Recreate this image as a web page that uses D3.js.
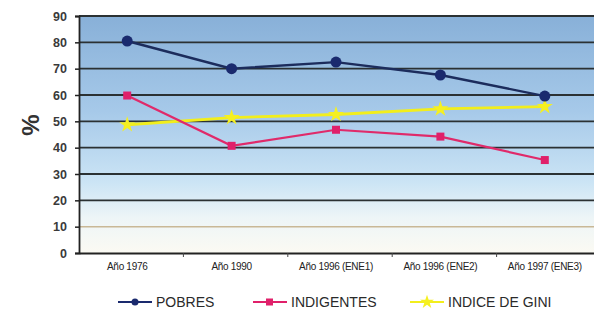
<!DOCTYPE html>
<html>
<head>
<meta charset="utf-8">
<script src="https://cdn.jsdelivr.net/npm/d3@7"></script>
<style>
  body { margin: 0; background: #fff; }
  text { font-family: "Liberation Sans", Arial, sans-serif; }
</style>
</head>
<body>
<svg id="chart" width="594" height="315"></svg>
<script>
// data
const categories = ["Año  1976", "Año 1990", "Año 1996 (ENE1)", "Año 1996 (ENE2)", "Año 1997 (ENE3)"];
const pobres = [80.5, 70, 72.5, 67.6, 59.6];
const indigentes = [59.8, 40.7, 46.8, 44.2, 35.3];
const gini = [48.7, 51.4, 52.6, 54.7, 55.6];
const yTicks = [0, 10, 20, 30, 40, 50, 60, 70, 80, 90];
const seriesNames = ["POBRES", "INDIGENTES", "INDICE DE GINI"];

const margin = { top: 16, right: -7, bottom: 62, left: 79 },
    width = 594 - margin.left - margin.right,
    height = 315 - margin.top - margin.bottom;

const svg = d3.select("#chart");

// background gradient
const defs = svg.append("defs");
const grad = defs.append("linearGradient")
    .attr("id", "bg")
    .attr("x1", 0).attr("y1", 0).attr("x2", 0).attr("y2", 1);
grad.append("stop").attr("offset", "0%").attr("stop-color", "#88b0d8");
grad.append("stop").attr("offset", "40%").attr("stop-color", "#a6c9e9");
grad.append("stop").attr("offset", "70%").attr("stop-color", "#cbe4f5");
grad.append("stop").attr("offset", "85%").attr("stop-color", "#edf5f7");
grad.append("stop").attr("offset", "100%").attr("stop-color", "#fbfaf3");

const g = svg.append("g")
    .attr("transform", "translate(" + margin.left + "," + margin.top + ")");

const x = d3.scaleBand().domain(categories).range([0, width]);
const y = d3.scaleLinear().domain([0, 90]).range([height, 0]);

g.append("rect")
    .attr("width", width)
    .attr("height", height)
    .attr("fill", "url(#bg)");

// gridlines
g.selectAll(".grid")
    .data(yTicks.slice(1))
    .enter().append("line")
    .attr("class", "grid")
    .attr("x1", 0).attr("x2", width)
    .attr("y1", d => y(d)).attr("y2", d => y(d))
    .style("stroke", d => d === 10 ? "#c9b896" : "#2b3133")
    .style("stroke-width", d => d === 10 ? 1.5 : 1.8);

// y axis
const yAxis = g.append("g")
    .call(d3.axisLeft(y).tickValues(yTicks).tickSize(4).tickPadding(8));
yAxis.select(".domain").style("stroke", "#222").style("stroke-width", 1.8);
yAxis.selectAll(".tick line").style("stroke", "#222").style("stroke-width", 1.5);
yAxis.selectAll("text")
    .style("font-size", "12.5px")
    .style("font-weight", "bold")
    .style("fill", "#3a3a3a");

// x axis
const xAxis = g.append("g")
    .attr("transform", "translate(0," + height + ")")
    .call(d3.axisBottom(x).tickSize(0).tickPadding(10));
xAxis.select(".domain").style("stroke", "#222").style("stroke-width", 1.8);
xAxis.selectAll("text")
    .style("font-size", "10px")
    .style("fill", "#222")
    .style("letter-spacing", "-0.3px")
    .attr("dx", -4);
// category boundary ticks
g.selectAll(".xtick")
    .data(categories.slice(1))
    .enter().append("line")
    .attr("class", "xtick")
    .attr("x1", d => x(d)).attr("x2", d => x(d))
    .attr("y1", height).attr("y2", height + 4)
    .style("stroke", "#444").style("stroke-width", 1);

// y label
svg.append("text")
    .attr("transform", "translate(39,125) rotate(-90)")
    .attr("text-anchor", "middle")
    .style("font-size", "24px")
    .style("font-weight", "bold")
    .style("fill", "#333")
    .text("%");

const cx = (d, i) => x(categories[i]) + x.bandwidth() / 2 - 4;
const line = d3.line().x(cx).y(d => y(d));

// GINI
g.append("path").datum(gini)
    .attr("d", line)
    .style("fill", "none").style("stroke", "#f2ee1c").style("stroke-width", 2.8);
g.selectAll(".gini").data(gini).enter().append("path")
    .attr("transform", (d, i) => "translate(" + cx(d, i) + "," + y(d) + ")")
    .attr("d", d3.symbol(d3.symbolStar, 80))
    .style("fill", "#f5f020");

// INDIGENTES
g.append("path").datum(indigentes)
    .attr("d", line)
    .style("fill", "none").style("stroke", "#e02a6a").style("stroke-width", 2.2);
g.selectAll(".ind").data(indigentes).enter().append("rect")
    .attr("x", (d, i) => cx(d, i) - 4)
    .attr("y", d => y(d) - 4)
    .attr("width", 8).attr("height", 8)
    .style("fill", "#e0206a");

// POBRES
g.append("path").datum(pobres)
    .attr("d", line)
    .style("fill", "none").style("stroke", "#1c2c5c").style("stroke-width", 2.4);
g.selectAll(".pob").data(pobres).enter().append("circle")
    .attr("cx", cx)
    .attr("cy", d => y(d))
    .attr("r", 5.5)
    .style("fill", "#1a2a6e");

// legend
const legColors = ["#1a2a6e", "#e0206a", "#f2ee1c"];
const legX = [118, 253, 410];
const leg = svg.selectAll(".leg").data(seriesNames).enter().append("g")
    .attr("class", "leg")
    .attr("transform", (d, i) => "translate(" + legX[i] + ",302)");
leg.append("line")
    .attr("x1", 0).attr("x2", 34)
    .style("stroke", (d, i) => legColors[i])
    .style("stroke-width", 2);
leg.each(function (d, i) {
    const s = d3.select(this);
    if (i === 0) s.append("circle").attr("cx", 17).attr("r", 3.5).style("fill", legColors[0]);
    if (i === 1) s.append("rect").attr("x", 13).attr("y", -3.5).attr("width", 7).attr("height", 7).style("fill", legColors[1]);
    if (i === 2) s.append("path").attr("transform", "translate(17,0)").attr("d", d3.symbol(d3.symbolStar, 60)).style("fill", "#f5f020");
});
leg.append("text")
    .attr("x", 38)
    .attr("y", 5)
    .style("font-size", "14px")
    .style("fill", "#2a2a2a")
    .text(d => d);
</script>
</body>
</html>
